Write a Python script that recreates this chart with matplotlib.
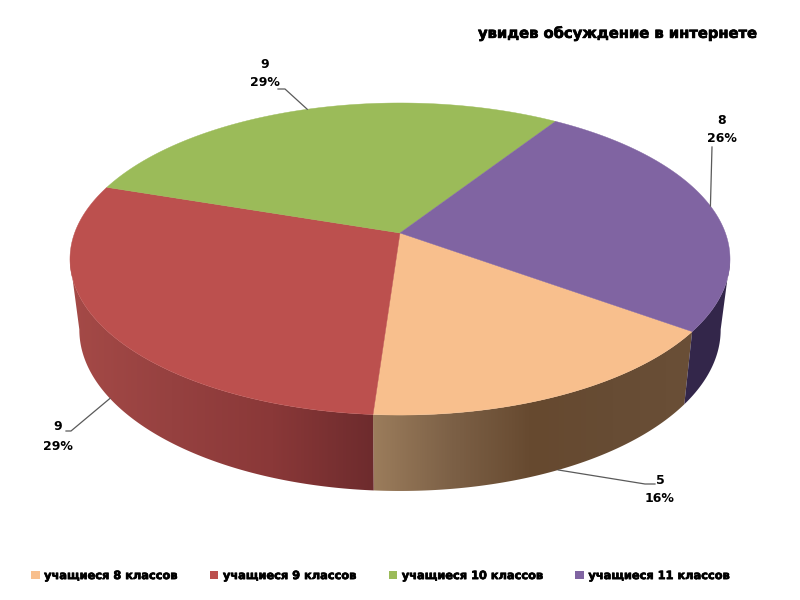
import numpy as np
import matplotlib
matplotlib.use("Agg")
import matplotlib.pyplot as plt
import matplotlib.patheffects as pe
from matplotlib.colors import LinearSegmentedColormap
from matplotlib.patches import Polygon, Patch

# data
categories = ["учащиеся 8 классов", "учащиеся 9 классов", "учащиеся 10 классов", "учащиеся 11 классов"]
values = [5, 9, 9, 8]
title_text = "увидев обсуждение в интернете"

colors = ["#F8BF8D", "#BC504E", "#9BBB59", "#8064A2"]
# side shading, left to right
side_colors = [
    ["#9C7D5C", "#7C6046", "#66492F", "#674C34", "#6A4F37"],
    ["#A54A47", "#964140", "#8A3838", "#6D2B2D"],
    ["#6D8340", "#6D8340"],
    ["#33264A", "#33264A"],
]
font = "DejaVu Sans"
start_angle = -35.9  # first slice starts here and goes clockwise
heavy = [pe.withStroke(linewidth=0.5, foreground="black")]
# only this part of the rim faces the viewer
rim_right, rim_left = -9.7, -170.3


# perspective of the pie: top face and bottom face
def top_face(a):
    u, v = np.cos(np.radians(a)), np.sin(np.radians(a))
    w = 1 + 0.1667 * v
    return 400 + 325.4 * u / w, 233 - 151.7 * v / w


def bottom_face(a):
    u, v = np.cos(np.radians(a)), np.sin(np.radians(a))
    w = 1 + 0.17 * v
    return 400 + 316 * u / w, 302.3 - 156.6 * v / w


fig = plt.figure(figsize=(8, 6), dpi=100, facecolor="white")
ax = fig.add_axes([0, 0, 1, 1])

total = sum(values)
spans = [360 * v / total for v in values]
starts = [start_angle - sum(spans[:i]) for i in range(len(values))]

# sides first
for i in range(len(values)):
    # the last slice runs past -360, so try the rim one turn further too
    for turn in [0, -360]:
        a1 = min(starts[i], rim_right + turn)
        a2 = max(starts[i] - spans[i], rim_left + turn)
        if a1 <= a2:
            continue
        angles = np.linspace(a1, a2, 120)
        pts = [top_face(a) for a in angles] + [bottom_face(a) for a in angles[::-1]]
        xs = [p[0] for p in pts]
        ys = [p[1] for p in pts]
        cmap = LinearSegmentedColormap.from_list("side", side_colors[i])
        grad = cmap(np.linspace(0, 1, 256))[np.newaxis, :, :]
        clip = Polygon(pts, closed=True, facecolor="none", edgecolor="none", transform=ax.transData)
        ax.add_patch(clip)
        im = ax.imshow(grad, aspect="auto", zorder=2,
                       extent=[min(xs) - 1, max(xs) + 1, max(ys) + 1, min(ys) - 1], interpolation="nearest")
        im.set_clip_path(clip)

# top face
for i in range(len(values)):
    angles = np.linspace(starts[i], starts[i] - spans[i], 120)
    pts = [top_face(a) for a in angles]
    # centre of the circle
    ax.add_patch(Polygon([(400, 233)] + pts, closed=True, facecolor=colors[i], edgecolor=colors[i], lw=0.3, zorder=3))

# data labels with leader lines
label_pos = [(660, 480), (58, 427), (265, 64), (722, 120)]
leader_elbow = [(645, 484), (71, 431), (285, 89), (712, 147)]
leader_tail = [(655, 484), (66, 431), (278, 89), (712, 147)]
use_bottom = [True, True, False, False]

for i in range(len(values)):
    mid = starts[i] - spans[i] / 2
    ax_pt = bottom_face(mid) if use_bottom[i] else top_face(mid)
    ax.plot([ax_pt[0], leader_elbow[i][0], leader_tail[i][0]],
            [ax_pt[1], leader_elbow[i][1], leader_tail[i][1]],
            color="#5a5a5a", lw=0.9, zorder=4)
    pct = round(100 * values[i] / total)
    ax.text(label_pos[i][0], label_pos[i][1], str(values[i]), ha="center", va="center",
            fontsize=9, fontweight="bold", family=font, color="black")
    ax.text(label_pos[i][0], label_pos[i][1] + 19, f"{pct}%", ha="center", va="center",
            fontsize=9, fontweight="bold", family=font, color="black")

ax.text(758, 33, title_text, ha="right", va="center", fontsize=10.6, fontweight="bold",
        family=font, color="black", path_effects=heavy)

handles = [Patch(facecolor=c, edgecolor="none") for c in colors]
leg = ax.legend(handles, categories, loc="center", bbox_to_anchor=(380.5, 576), bbox_transform=ax.transData,
                ncol=4, frameon=False, handlelength=0.75, handleheight=0.75, handletextpad=0.4,
                columnspacing=2.8, borderpad=0, prop={"family": font, "weight": "bold", "size": 8.2})
for t in leg.get_texts():
    t.set_path_effects(heavy)

ax.set_xlim(0, 800)
ax.set_ylim(600, 0)
ax.axis("off")

fig.savefig("out.png", dpi=100)
